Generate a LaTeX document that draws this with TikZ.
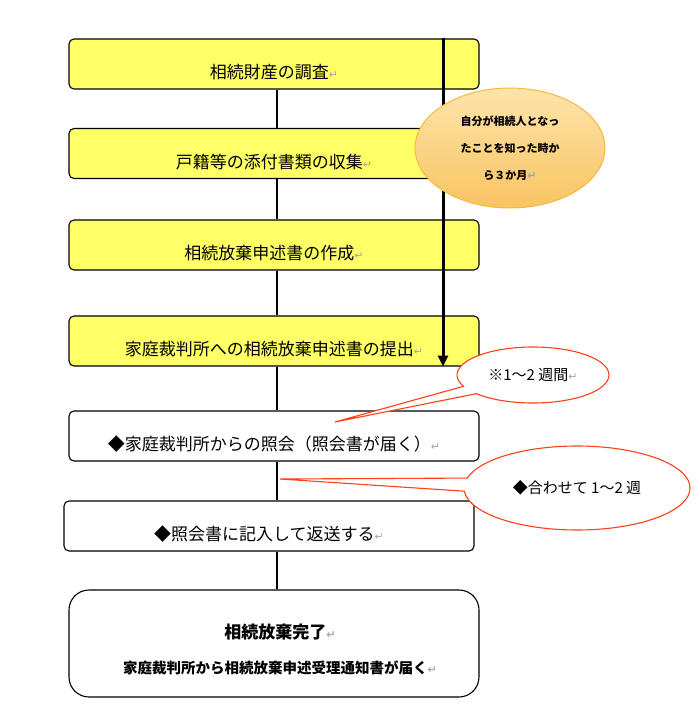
\documentclass[tikz,border=0pt]{standalone}
\usepackage{fontspec}
\setmainfont{Noto Sans CJK JP}
\newfontfamily\retfont{DejaVu Sans}
\usetikzlibrary{shapes.geometric,shapes.callouts,arrows.meta}

\definecolor{boxyellow}{RGB}{255,255,102}
\definecolor{calloutred}{RGB}{255,64,24}
\definecolor{limittop}{RGB}{253,228,170}
\definecolor{limitbottom}{RGB}{249,196,98}
\definecolor{limitedge}{RGB}{246,186,60}
\newcommand{\ret}{{\retfont\fontsize{11}{11}\selectfont\color{black!35}↵}}

\tikzset{
  stepbox/.style={draw, line width=1.1pt, rounded corners=5pt,
    minimum width=410pt, minimum height=50pt, inner sep=0pt,
    text height=29pt, text depth=0pt, font=\fontsize{17}{20}\selectfont},
  yellowbox/.style={stepbox, fill=boxyellow},
  whitebox/.style={stepbox, fill=white},
  link/.style={line width=1.1pt},
  timeline/.style={line width=3pt, -{Triangle[length=11pt,width=10pt]}},
  weekcall/.style={ellipse callout, draw=calloutred, fill=white,
    line width=1.1pt, font=\fontsize{15}{18}\selectfont, callout pointer arc=18}
}

\begin{document}
\begin{tikzpicture}[x=1pt, y=-1pt]
    \useasboundingbox (0,0) rectangle (700,720);
    \coordinate (spine) at (277,0);
    \coordinate (tl) at (443,0);

    \node[yellowbox] (b1) at (274,64) {相続財産の調査\ret};
    \node[yellowbox] (b2) at (274,153.5) {戸籍等の添付書類の収集\ret};
    \node[yellowbox] (b3) at (274,245) {相続放棄申述書の作成\ret};
    \node[yellowbox] (b4) at (274,341) {家庭裁判所への相続放棄申述書の提出\ret};
    \node[whitebox] (b5) at (274,436) {◆家庭裁判所からの照会（照会書が届く）\ret};
    \node[whitebox] (b6) at (269,526) {◆照会書に記入して返送する\ret};
    \node[stepbox, fill=white, rounded corners=20pt, minimum height=107pt] (b7) at (274,643.5) {};
    \node[font=\bfseries\fontsize{17}{20}\selectfont] (b7title) at (280,632) {相続放棄完了\ret};
    \node[font=\bfseries\fontsize{14.5}{17}\selectfont] (b7note) at (280,668) {家庭裁判所から相続放棄申述受理通知書が届く\ret};

    \draw[link] (b1.south -| spine) -- (b2.north -| spine);
    \draw[link] (b2.south -| spine) -- (b3.north -| spine);
    \draw[link] (b3.south -| spine) -- (b4.north -| spine);
    \draw[link] (b4.south -| spine) -- (b5.north -| spine);
    \draw[link] (b5.south -| spine) -- (b6.north -| spine);
    \draw[link] (b6.south -| spine) -- (b7.north -| spine);

    %%%% three months limit
    \draw[timeline] (b1.north -| tl) -- (b4.south -| tl);
    \node[ellipse, draw=limitedge, line width=1pt, top color=limittop, bottom color=limitbottom,
      minimum width=190pt, minimum height=120pt, inner sep=0pt, align=center,
      font=\bfseries\fontsize{11}{27}\selectfont] (limit) at (510,148)
      {自分が相続人となっ\\たことを知った時か\\ら３か月\ret};

    %%%% weeks
    \coordinate (tip1) at (335,422);
    \coordinate (tip2) at (280,479);
    \node[weekcall, minimum width=152pt, minimum height=56pt,
      callout absolute pointer={(tip1)}] (week1) at (533,375) {※1～2 週間\ret};
    \node[weekcall, minimum width=226pt, minimum height=84pt,
      callout absolute pointer={(tip2)}] (week2) at (577,488) {◆合わせて 1～2 週};
\end{tikzpicture}
\end{document}
